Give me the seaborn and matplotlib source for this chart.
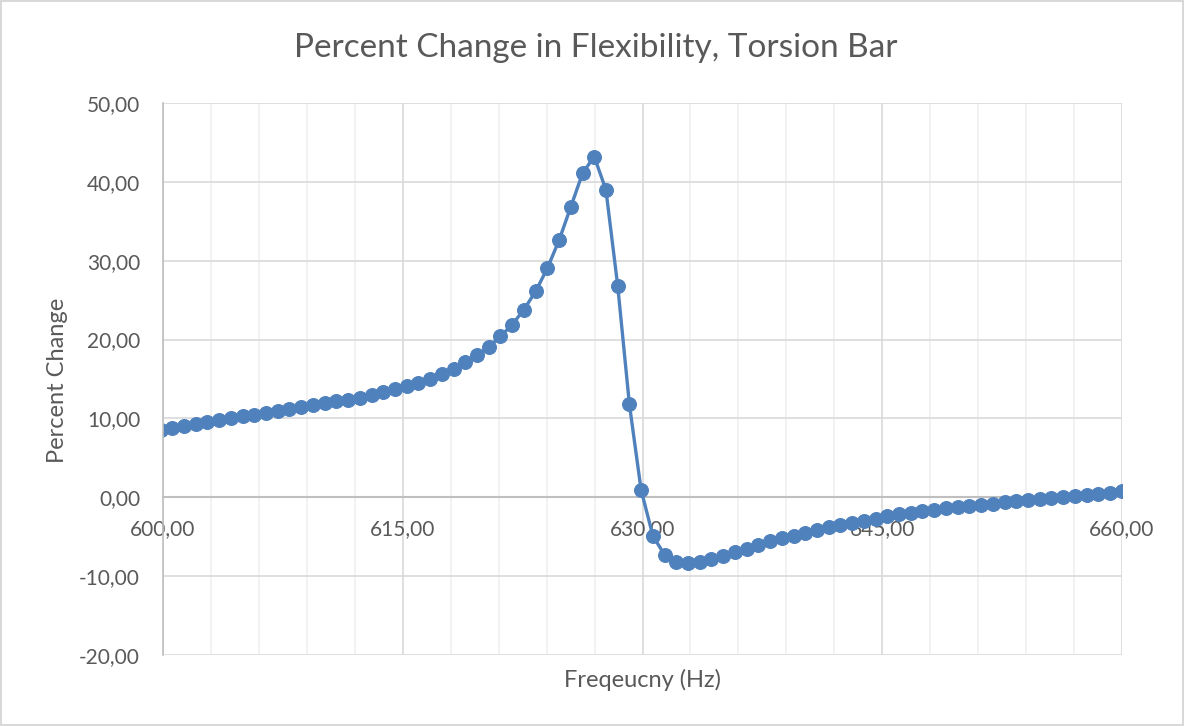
import numpy as np
import pandas as pd
import matplotlib
matplotlib.use("Agg")
import matplotlib.pyplot as plt
from matplotlib.ticker import FuncFormatter, MultipleLocator
import seaborn as sns

# Frequency sweep (Hz)
freq_hz = [
    599.85, 600.58, 601.31, 602.05, 602.78, 603.51, 604.25, 604.98, 605.71, 606.45,
    607.18, 607.91, 608.65, 609.38, 610.11, 610.85, 611.58, 612.31, 613.05, 613.78,
    614.51, 615.25, 615.98, 616.71, 617.45, 618.18, 618.91, 619.65, 620.38, 621.11,
    621.85, 622.58, 623.31, 624.05, 624.78, 625.51, 626.25, 626.98, 627.71, 628.45,
    629.18, 629.91, 630.65, 631.38, 632.11, 632.85, 633.58, 634.31, 635.05, 635.78,
    636.51, 637.25, 637.98, 638.71, 639.45, 640.18, 640.91, 641.65, 642.38, 643.11,
    643.85, 644.58, 645.31, 646.05, 646.78, 647.51, 648.25, 648.98, 649.71, 650.45,
    651.18, 651.91, 652.65, 653.38, 654.11, 654.85, 655.58, 656.31, 657.05, 657.78,
    658.51, 659.25, 659.98,
]

# Percent change in flexibility at each frequency
percent_change = [
    8.50, 8.75, 9.00, 9.30, 9.55, 9.80, 10.00, 10.25, 10.45, 10.70,
    10.90, 11.15, 11.40, 11.65, 11.90, 12.15, 12.40, 12.65, 13.00, 13.35,
    13.70, 14.10, 14.55, 15.05, 15.60, 16.25, 17.10, 18.00, 19.10, 20.40,
    21.90, 23.80, 26.10, 29.05, 32.60, 36.80, 41.10, 43.20, 39.00, 26.80,
    11.80, 0.95, -4.90, -7.30, -8.20, -8.35, -8.15, -7.85, -7.40, -7.00,
    -6.55, -6.05, -5.55, -5.20, -4.85, -4.50, -4.15, -3.80, -3.50, -3.20,
    -2.95, -2.70, -2.35, -2.15, -1.95, -1.75, -1.55, -1.40, -1.25, -1.10,
    -0.95, -0.80, -0.65, -0.50, -0.35, -0.20, -0.05, 0.05, 0.20, 0.30,
    0.45, 0.60, 0.75,
]

x_major_ticks = [600, 615, 630, 645, 660]
y_major_ticks = [-20, -10, 0, 10, 20, 30, 40, 50]

title_text = "Percent Change in Flexibility, Torsion Bar"
x_label = "Freqeucny (Hz)"
y_label = "Percent Change"

df = pd.DataFrame({"freq": freq_hz, "pct": percent_change})

sns.set_style("white")
plt.rcParams["font.family"] = ["Lato", "DejaVu Sans"]

TEXT = "#595959"
BLUE = "#4F81BD"

fig = plt.figure(figsize=(11.84, 7.26), dpi=100)
fig.patch.set_facecolor("white")
fig.patch.set_edgecolor("#d9d9d9")
fig.patch.set_linewidth(1.5)

ax = fig.add_axes([163 / 1184, 1 - 655 / 726, (1122 - 163) / 1184, (655 - 103) / 726])

sns.lineplot(data=df, x="freq", y="pct", ax=ax, color=BLUE, linewidth=2.4,
             marker="o", markersize=10, markeredgecolor=BLUE, markerfacecolor=BLUE,
             sort=False, estimator=None)

ax.set_xlim(600, 660)
ax.set_ylim(-20, 50)

ax.set_xticks(x_major_ticks)
ax.xaxis.set_minor_locator(MultipleLocator(3))
ax.set_yticks(y_major_ticks)

comma_fmt = FuncFormatter(lambda v, pos: f"{v:.2f}".replace(".", ","))
ax.xaxis.set_major_formatter(comma_fmt)
ax.yaxis.set_major_formatter(comma_fmt)

ax.grid(which="major", axis="both", color="#d9d9d9", linewidth=1.2)
ax.grid(which="minor", axis="x", color="#f0f0f0", linewidth=1.2)
ax.set_axisbelow(True)

for side in ("top", "right"):
    ax.spines[side].set_visible(False)
ax.spines["left"].set_color("#bfbfbf")
ax.spines["left"].set_linewidth(1.2)
ax.spines["bottom"].set_position(("data", 0))
ax.spines["bottom"].set_color("#bfbfbf")
ax.spines["bottom"].set_linewidth(1.5)
ax.spines["bottom"].set_zorder(1)

ax.tick_params(axis="both", which="both", length=0, labelsize=15, labelcolor=TEXT)
ax.tick_params(axis="x", pad=15.5)
ax.tick_params(axis="y", pad=16.5)

ax.set_xlabel("")
ax.set_ylabel("")
fig.text((163 + 1122) / 2 / 1184, 1 - 680 / 726, x_label, ha="center", va="center",
         fontsize=17, color=TEXT)
fig.text(58 / 1184, 1 - 380 / 726, y_label, ha="center", va="center", rotation=90,
         fontsize=17, color=TEXT)
fig.text(596 / 1184, 1 - 48 / 726, title_text, ha="center", va="center",
         fontsize=24, color=TEXT)

fig.savefig("out.png", dpi=100, facecolor=fig.get_facecolor(),
            edgecolor=fig.get_edgecolor())
